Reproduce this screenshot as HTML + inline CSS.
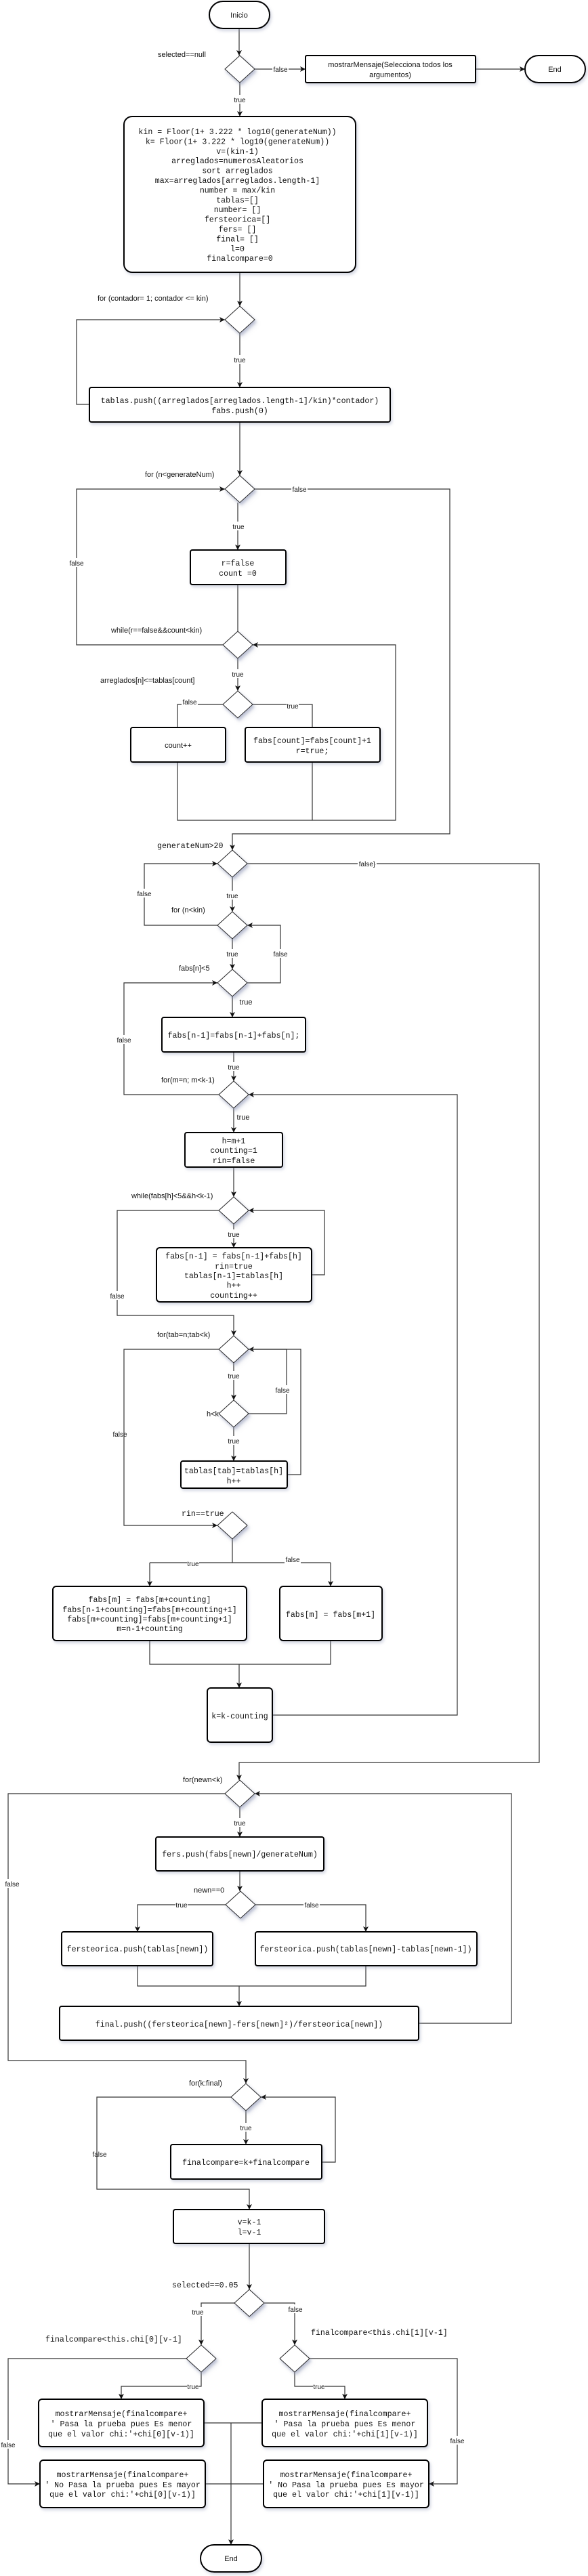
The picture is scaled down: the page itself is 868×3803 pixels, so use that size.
<!DOCTYPE html>
<html><head><meta charset="utf-8">
<style>
html,body{margin:0;padding:0;background:#fff;}
svg{display:block;}
.sn{font-family:"Liberation Sans",sans-serif;font-size:11px;fill:#111;}
.mo{font-family:"Liberation Mono",monospace;font-size:11.6px;fill:#111;}
.lb{font-family:"Liberation Sans",sans-serif;font-size:10px;fill:#111;}
.box{fill:#fff;stroke:#000;stroke-width:2;filter:url(#sh);}
.dia{fill:#fff;stroke:#222;stroke-width:1;filter:url(#sh);}
.ln{fill:none;stroke:#333;stroke-width:1.2;}
.ar{fill:none;stroke:#333;stroke-width:1.2;marker-end:url(#a);}
</style></head><body>
<svg width="868" height="3803" viewBox="0 0 868 3803" xmlns="http://www.w3.org/2000/svg">
<defs>
<marker id="a" markerWidth="10" markerHeight="10" refX="8" refY="4" orient="auto" markerUnits="userSpaceOnUse">
<path d="M0,0 L8,4 L0,8 L2,4 z" fill="#111"/></marker>
<filter id="sh" x="-10%" y="-10%" width="125%" height="130%"><feDropShadow dx="2" dy="3" stdDeviation="2" flood-color="#8890b0" flood-opacity="0.35"/></filter>
</defs>

<!-- connectors -->
<path class="ar" d="M353,42 V82"/>
<path class="ar" d="M376,102 H451"/>
<path class="ar" d="M702,102 H775"/>
<path class="ar" d="M354,122 V172"/>
<path class="ar" d="M354,402 V452"/>
<path class="ar" d="M132,597 H113 V472 H332"/>
<path class="ar" d="M354,492 V572"/>
<path class="ar" d="M354,623 V702"/>
<path class="ar" d="M376,722 H664 V1231 H343 V1255"/>
<path class="ar" d="M351,742 V812"/>
<path class="ln" d="M351,863 V932"/>
<path class="ar" d="M329,952 H113 V722 H332"/>
<path class="ar" d="M351,972 V1020"/>
<path class="ln" d="M329,1040 H262 V1074"/>
<path class="ln" d="M373,1040 H461 V1074"/>
<path class="ar" d="M262,1125 V1211 H584 V952 H373"/>
<path class="ln" d="M461,1125 V1211"/>
<path class="ar" d="M321,1366 H213 V1275 H321"/>
<path class="ar" d="M365,1275 H796 V2602 H353 V2628"/>
<path class="ar" d="M343,1295 V1346"/>
<path class="ar" d="M343,1386 V1431"/>
<path class="ar" d="M365,1451 H414 V1366 H365"/>
<path class="ar" d="M323,1616 H183 V1451 H321"/>
<path class="ar" d="M343,1471 V1502"/>
<path class="ar" d="M345,1553 V1596"/>
<path class="ar" d="M345,1636 V1672"/>
<path class="ar" d="M345,1723 V1767"/>
<path class="ar" d="M345,1807 V1842"/>
<path class="ar" d="M460,1882 H479 V1787 H367"/>
<path class="ar" d="M323,1787 H173 V1942 H345 V1972"/>
<path class="ar" d="M323,1992 H183 V2252 H321"/>
<path class="ar" d="M345,2012 V2067"/>
<path class="ar" d="M367,2087 H423 V1992 H367"/>
<path class="ar" d="M345,2107 V2157"/>
<path class="ln" d="M424,2177 H444 V1992 H367"/>
<path class="ln" d="M343,2272 V2307 M221,2307 H488"/>
<path class="ar" d="M221,2307 V2342"/>
<path class="ar" d="M488,2307 V2342"/>
<path class="ln" d="M221,2422 V2457 H488 V2422"/>
<path class="ar" d="M353,2457 V2492"/>
<path class="ar" d="M402,2532 H675 V1616 H367"/>
<path class="ar" d="M332,2648 H12 V3042 H363 V3076"/>
<path class="ar" d="M354,2668 V2712"/>
<path class="ar" d="M354,2762 V2792"/>
<path class="ar" d="M333,2812 H203 V2852"/>
<path class="ar" d="M377,2812 H540 V2852"/>
<path class="ln" d="M203,2902 V2932 H540 V2902"/>
<path class="ar" d="M353,2932 V2962"/>
<path class="ar" d="M618,2987 H755 V2648 H376"/>
<path class="ar" d="M341,3096 H143 V3232 H368 V3262"/>
<path class="ar" d="M363,3116 V3166"/>
<path class="ar" d="M475,3192 H495 V3096 H385"/>
<path class="ar" d="M368,3312 V3380"/>
<path class="ar" d="M346,3400 H297 V3462"/>
<path class="ar" d="M390,3400 H435 V3462"/>
<path class="ar" d="M297,3502 V3523 H179 V3542"/>
<path class="ar" d="M275,3482 H12 V3667 H59"/>
<path class="ar" d="M435,3502 V3523 H509 V3542"/>
<path class="ar" d="M457,3482 H675 V3667 H633"/>
<path class="ln" d="M301,3577 H387 M303,3667 H389"/>
<path class="ar" d="M341,3577 V3757"/>

<!-- terminals -->
<rect class="box" x="309" y="2" width="89" height="40" rx="20"/>
<text class="sn" x="353" y="26" text-anchor="middle">Inicio</text>
<rect class="box" x="775" y="82" width="89" height="40" rx="20"/>
<text class="sn" x="819" y="106" text-anchor="middle">End</text>
<rect class="box" x="296" y="3757" width="90" height="40" rx="20"/>
<text class="sn" x="341" y="3781" text-anchor="middle">End</text>

<!-- boxes -->
<rect class="box" x="451" y="82" width="251" height="40" rx="2"/>
<text class="sn" text-anchor="middle"><tspan x="576" y="99">mostrarMensaje(Selecciona todos los</tspan><tspan x="576" y="114">argumentos)</tspan></text>

<rect class="box" x="183" y="172" width="342" height="230" rx="12"/>
<text class="mo" text-anchor="middle">
<tspan x="354" y="198">kin = Floor(1+ 3.222 * log10(generateNum))</tspan>
<tspan x="354" y="212.4">k= Floor(1+ 3.222 * log10(generateNum))</tspan>
<tspan x="354" y="226.8">v=(kin-1)</tspan>
<tspan x="354" y="241.2">arreglados=numerosAleatorios</tspan>
<tspan x="354" y="255.6">sort arreglados</tspan>
<tspan x="354" y="270">max=arreglados[arreglados.length-1]</tspan>
<tspan x="354" y="284.4">number = max/kin</tspan>
<tspan x="354" y="298.8">tablas=[]</tspan>
<tspan x="354" y="313.2">number= []</tspan>
<tspan x="354" y="327.6">fersteorica=[]</tspan>
<tspan x="354" y="342">fers= []</tspan>
<tspan x="354" y="356.4">final= []</tspan>
<tspan x="354" y="370.8">l=0</tspan>
<tspan x="354" y="385.2">finalcompare=0</tspan>
</text>

<rect class="box" x="132" y="572" width="444" height="51" rx="3"/>
<text class="mo" text-anchor="middle"><tspan x="354" y="595">tablas.push((arreglados[arreglados.length-1]/kin)*contador)</tspan><tspan x="354" y="610">fabs.push(0)</tspan></text>

<rect class="box" x="281" y="812" width="141" height="51" rx="3"/>
<text class="mo" text-anchor="middle"><tspan x="351" y="835">r=false</tspan><tspan x="351" y="850">count =0</tspan></text>

<rect class="box" x="193" y="1074" width="140" height="51" rx="3"/>
<text class="sn" x="263" y="1104" text-anchor="middle">count++</text>

<rect class="box" x="362" y="1074" width="199" height="51" rx="3"/>
<text class="mo" text-anchor="middle"><tspan x="461" y="1097">fabs[count]=fabs[count]+1</tspan><tspan x="461" y="1112">r=true;</tspan></text>

<rect class="box" x="239" y="1502" width="212" height="51" rx="3"/>
<text class="mo" x="345" y="1532" text-anchor="middle">fabs[n-1]=fabs[n-1]+fabs[n];</text>

<rect class="box" x="273" y="1672" width="144" height="51" rx="3"/>
<text class="mo" text-anchor="middle"><tspan x="345" y="1688">h=m+1</tspan><tspan x="345" y="1702">counting=1</tspan><tspan x="345" y="1717">rin=false</tspan></text>

<rect class="box" x="231" y="1842" width="229" height="80" rx="5"/>
<text class="mo" text-anchor="middle"><tspan x="345" y="1858">fabs[n-1] = fabs[n-1]+fabs[h]</tspan><tspan x="345" y="1873">rin=true</tspan><tspan x="345" y="1887">tablas[n-1]=tablas[h]</tspan><tspan x="345" y="1901">h++</tspan><tspan x="345" y="1916">counting++</tspan></text>

<rect class="box" x="267" y="2157" width="157" height="40" rx="3"/>
<text class="mo" text-anchor="middle"><tspan x="345" y="2175">tablas[tab]=tablas[h]</tspan><tspan x="345" y="2190">h++</tspan></text>

<rect class="box" x="78" y="2342" width="286" height="80" rx="5"/>
<text class="mo" text-anchor="middle"><tspan x="221" y="2365">fabs[m] = fabs[m+counting]</tspan><tspan x="221" y="2380">fabs[n-1+counting]=fabs[m+counting+1]</tspan><tspan x="221" y="2394">fabs[m+counting]=fabs[m+counting+1]</tspan><tspan x="221" y="2408">m=n-1+counting</tspan></text>

<rect class="box" x="413" y="2342" width="151" height="80" rx="5"/>
<text class="mo" x="488" y="2387" text-anchor="middle">fabs[m] = fabs[m+1]</text>

<rect class="box" x="306" y="2492" width="96" height="80" rx="5"/>
<text class="mo" x="354" y="2537" text-anchor="middle">k=k-counting</text>

<rect class="box" x="230" y="2712" width="248" height="50" rx="3"/>
<text class="mo" x="354" y="2741" text-anchor="middle">fers.push(fabs[newn]/generateNum)</text>

<rect class="box" x="91" y="2852" width="223" height="50" rx="3"/>
<text class="mo" x="203" y="2881" text-anchor="middle">fersteorica.push(tablas[newn])</text>

<rect class="box" x="377" y="2852" width="327" height="50" rx="3"/>
<text class="mo" x="540" y="2881" text-anchor="middle">fersteorica.push(tablas[newn]-tablas[newn-1])</text>

<rect class="box" x="88" y="2962" width="530" height="50" rx="3"/>
<text class="mo" x="353" y="2992" text-anchor="middle">final.push((fersteorica[newn]-fers[newn]²)/fersteorica[newn])</text>

<rect class="box" x="252" y="3166" width="223" height="51" rx="3"/>
<text class="mo" x="363" y="3196" text-anchor="middle">finalcompare=k+finalcompare</text>

<rect class="box" x="256" y="3262" width="223" height="50" rx="3"/>
<text class="mo" text-anchor="middle"><tspan x="368" y="3284">v=k-1</tspan><tspan x="368" y="3299">l=v-1</tspan></text>

<rect class="box" x="57" y="3542" width="244" height="70" rx="5"/>
<text class="mo" text-anchor="middle"><tspan x="179" y="3567">mostrarMensaje(finalcompare+</tspan><tspan x="179" y="3582">' Pasa la prueba pues Es menor</tspan><tspan x="179" y="3597">que el valor chi:'+chi[0][v-1)]</tspan></text>

<rect class="box" x="59" y="3632" width="244" height="70" rx="5"/>
<text class="mo" text-anchor="middle"><tspan x="181" y="3657">mostrarMensaje(finalcompare+</tspan><tspan x="181" y="3672">' No Pasa la prueba pues Es mayor</tspan><tspan x="181" y="3686">que el valor chi:'+chi[0][v-1)]</tspan></text>

<rect class="box" x="387" y="3542" width="244" height="70" rx="5"/>
<text class="mo" text-anchor="middle"><tspan x="509" y="3567">mostrarMensaje(finalcompare+</tspan><tspan x="509" y="3582">' Pasa la prueba pues Es menor</tspan><tspan x="509" y="3597">que el valor chi:'+chi[1][v-1)]</tspan></text>

<rect class="box" x="389" y="3632" width="244" height="70" rx="5"/>
<text class="mo" text-anchor="middle"><tspan x="511" y="3657">mostrarMensaje(finalcompare+</tspan><tspan x="511" y="3672">' No Pasa la prueba pues Es mayor</tspan><tspan x="511" y="3686">que el valor chi:'+chi[1][v-1)]</tspan></text>

<!-- diamonds -->
<g class="dia">
<polygon class="dia" points="354,82 376,102 354,122 332,102"/>
<polygon class="dia" points="354,452 376,472 354,492 332,472"/>
<polygon class="dia" points="354,702 376,722 354,742 332,722"/>
<polygon class="dia" points="351,932 373,952 351,972 329,952"/>
<polygon class="dia" points="351,1020 373,1040 351,1060 329,1040"/>
<polygon class="dia" points="343,1255 365,1275 343,1295 321,1275"/>
<polygon class="dia" points="343,1346 365,1366 343,1386 321,1366"/>
<polygon class="dia" points="343,1431 365,1451 343,1471 321,1451"/>
<polygon class="dia" points="345,1596 367,1616 345,1636 323,1616"/>
<polygon class="dia" points="345,1767 367,1787 345,1807 323,1787"/>
<polygon class="dia" points="345,1972 367,1992 345,2012 323,1992"/>
<polygon class="dia" points="345,2067 367,2087 345,2107 323,2087"/>
<polygon class="dia" points="343,2232 365,2252 343,2272 321,2252"/>
<polygon class="dia" points="354,2628 376,2648 354,2668 332,2648"/>
<polygon class="dia" points="355,2792 377,2812 355,2832 333,2812"/>
<polygon class="dia" points="363,3076 385,3096 363,3116 341,3096"/>
<polygon class="dia" points="368,3380 390,3400 368,3420 346,3400"/>
<polygon class="dia" points="297,3462 319,3482 297,3502 275,3482"/>
<polygon class="dia" points="435,3462 457,3482 435,3502 413,3482"/>
</g>

<!-- node labels -->
<text class="sn" x="233" y="84">selected==null</text>
<text class="sn" x="144" y="444">for (contador= 1; contador &lt;= kin)</text>
<text class="sn" x="214" y="704">for (n&lt;generateNum)</text>
<text class="sn" x="164" y="934">while(r==false&amp;&amp;count&lt;kin)</text>
<text class="sn" x="148" y="1008">arreglados[n]&lt;=tablas[count]</text>
<text class="mo" x="232" y="1252">generateNum&gt;20</text>
<text class="sn" x="253" y="1347">for (n&lt;kin)</text>
<text class="sn" x="264" y="1433">fabs[n]&lt;5</text>
<text class="sn" x="238" y="1598">for(m=n; m&lt;k-1)</text>
<text class="sn" x="194" y="1769">while(fabs[h]&lt;5&amp;&amp;h&lt;k-1)</text>
<text class="sn" x="232" y="1974">for(tab=n;tab&lt;k)</text>
<text class="sn" x="305" y="2091">h&lt;k</text>
<text class="mo" x="268" y="2238">rin==true</text>
<text class="sn" x="270" y="2631">for(newn&lt;k)</text>
<text class="sn" x="286" y="2794">newn==0</text>
<text class="sn" x="279" y="3079">for(k:final)</text>
<text class="mo" x="254" y="3377">selected==0.05</text>
<text class="mo" x="67" y="3457">finalcompare&lt;this.chi[0][v-1]</text>
<text class="mo" x="459" y="3447">finalcompare&lt;this.chi[1][v-1]</text>

<!-- connector labels -->
<g class="lb" text-anchor="middle">
<rect x="402" y="95" width="24" height="13" fill="#fff"/><text x="414" y="106">false</text>
<rect x="345" y="140" width="18" height="13" fill="#fff"/><text x="354" y="151">true</text>
<rect x="345" y="524" width="18" height="13" fill="#fff"/><text x="354" y="535">true</text>
<rect x="430" y="715" width="24" height="13" fill="#fff"/><text x="442" y="726">false</text>
<rect x="343" y="770" width="18" height="13" fill="#fff"/><text x="352" y="781">true</text>
<rect x="101" y="824" width="24" height="13" fill="#fff"/><text x="113" y="835">false</text>
<rect x="342" y="988" width="18" height="13" fill="#fff"/><text x="351" y="999">true</text>
<rect x="268" y="1029" width="24" height="13" fill="#fff"/><text x="280" y="1040">false</text>
<rect x="423" y="1035" width="18" height="13" fill="#fff"/><text x="432" y="1046">true</text>
<rect x="528" y="1268" width="28" height="13" fill="#fff"/><text x="542" y="1279">false}</text>
<rect x="201" y="1312" width="24" height="13" fill="#fff"/><text x="213" y="1323">false</text>
<rect x="334" y="1315" width="18" height="13" fill="#fff"/><text x="343" y="1326">true</text>
<rect x="334" y="1401" width="18" height="13" fill="#fff"/><text x="343" y="1412">true</text>
<rect x="402" y="1401" width="24" height="13" fill="#fff"/><text x="414" y="1412">false</text>
<rect x="171" y="1528" width="24" height="13" fill="#fff"/><text x="183" y="1539">false</text>
<text class="sn" x="363" y="1483">true</text>
<rect x="336" y="1568" width="18" height="13" fill="#fff"/><text x="345" y="1579">true</text>
<text class="sn" x="359" y="1653">true</text>
<rect x="336" y="1815" width="18" height="13" fill="#fff"/><text x="345" y="1826">true</text>
<rect x="161" y="1906" width="24" height="13" fill="#fff"/><text x="173" y="1917">false</text>
<rect x="336" y="2024" width="18" height="13" fill="#fff"/><text x="345" y="2035">true</text>
<rect x="405" y="2045" width="24" height="13" fill="#fff"/><text x="417" y="2056">false</text>
<rect x="336" y="2120" width="18" height="13" fill="#fff"/><text x="345" y="2131">true</text>
<text x="177" y="2121">false</text>
<rect x="276" y="2301" width="18" height="13" fill="#fff"/><text x="285" y="2312">true</text>
<rect x="420" y="2295" width="24" height="13" fill="#fff"/><text x="432" y="2306">false</text>
<rect x="6" y="2774" width="24" height="13" fill="#fff"/><text x="18" y="2785">false</text>
<rect x="345" y="2684" width="18" height="13" fill="#fff"/><text x="354" y="2695">true</text>
<rect x="259" y="2805" width="18" height="13" fill="#fff"/><text x="268" y="2816">true</text>
<rect x="448" y="2805" width="24" height="13" fill="#fff"/><text x="460" y="2816">false</text>
<rect x="354" y="3134" width="18" height="13" fill="#fff"/><text x="363" y="3145">true</text>
<text x="147" y="3184">false</text>
<rect x="283" y="3406" width="18" height="13" fill="#fff"/><text x="292" y="3417">true</text>
<rect x="424" y="3402" width="24" height="13" fill="#fff"/><text x="436" y="3413">false</text>
<rect x="276" y="3516" width="18" height="13" fill="#fff"/><text x="285" y="3527">true</text>
<rect x="462" y="3516" width="18" height="13" fill="#fff"/><text x="471" y="3527">true</text>
<rect x="1" y="3602" width="22" height="13" fill="#fff"/><text x="12" y="3613">false</text>
<rect x="663" y="3596" width="24" height="13" fill="#fff"/><text x="675" y="3607">false</text>
</g>
</svg>
</body></html>
